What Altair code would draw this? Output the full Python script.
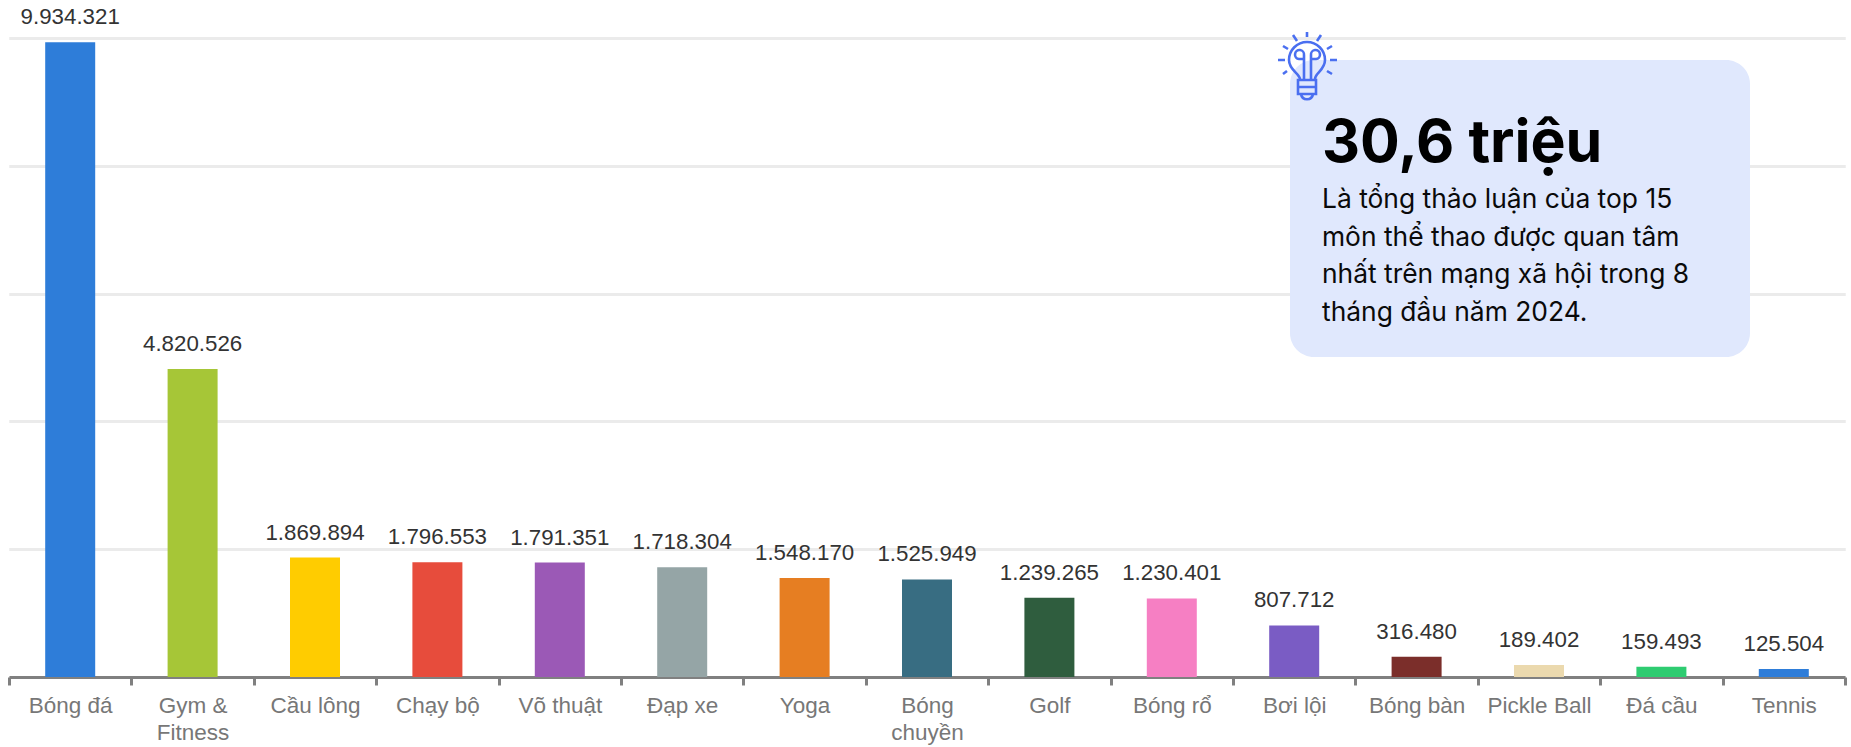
import altair as alt
import pandas as pd

# Social-media discussion volume per sport
sports = ["Bóng đá", "Gym &|Fitness", "Cầu lông", "Chạy bộ", "Võ thuật", "Đạp xe", "Yoga",
          "Bóng|chuyền", "Golf", "Bóng rổ", "Bơi lội", "Bóng bàn", "Pickle Ball", "Đá cầu", "Tennis"]
mentions = [9934321, 4820526, 1869894, 1796553, 1791351, 1718304, 1548170,
            1525949, 1239265, 1230401, 807712, 316480, 189402, 159493, 125504]
colors = ["#2E7DD9", "#A6C637", "#FFCC00", "#E74C3C", "#9B59B6", "#95A5A6", "#E67E22",
          "#386D82", "#2F5D3E", "#F67FC3", "#7A5CC4", "#7B2E2A", "#EBD9AE", "#2ECC71", "#2E7DD9"]
y_ticks = [0, 2000000, 4000000, 6000000, 8000000, 10000000]

headline = "30,6 triệu"
body_lines = ["Là tổng thảo luận của top 15", "môn thể thao được quan tâm",
              "nhất trên mạng xã hội trong 8", "tháng đầu năm 2024."]

LEFT, TOP, W, H = 9, 38, 1836, 639


def px(x):
    return alt.value(x - LEFT)


def py(y):
    return alt.value(y - TOP)


df = pd.DataFrame({
    "sport": sports,
    "mentions": mentions,
    "color": colors,
    "label": [f"{v:,}".replace(",", ".") for v in mentions],
})

x = alt.X("sport:N", sort=sports, title=None,
          scale=alt.Scale(padding=0),
          axis=alt.Axis(labelExpr="split(datum.label, '|')", labelAngle=0, labelFont="Liberation Sans",
                        labelFontSize=22.5, labelColor="#777777", labelPadding=9, labelLineHeight=27,
                        labelLimit=200, labelOverlap=False, domainColor="#808080", domainWidth=3,
                        tickColor="#808080", tickWidth=3, tickSize=8, tickBand="extent", grid=False))
y = alt.Y("mentions:Q", title=None,
          scale=alt.Scale(domain=[0, 10000000], nice=False),
          axis=alt.Axis(values=y_ticks, labels=False, ticks=False, domain=False,
                        grid=True, gridColor="#EBEBEB", gridWidth=3))

bars = alt.Chart(df).mark_bar(width=50).encode(x=x, y=y, color=alt.Color("color:N", scale=None))
values = alt.Chart(df).mark_text(baseline="bottom", dy=-13, font="Liberation Sans", fontSize=22.3,
                                 color="#333333").encode(x=x, y=y, text="label:N")

one = pd.DataFrame({"n": [0]})
box = alt.Chart(one).mark_rect(color="#E0E8FD", cornerRadius=24).encode(
    x=px(1290), x2=px(1750), y=py(60), y2=py(357))
head = alt.Chart(one).mark_text(align="left", baseline="alphabetic", font="Inter", fontSize=59,
                                fontWeight=700, color="#000000").encode(
    x=px(1322), y=py(162), text=alt.value(headline))

body_df = pd.DataFrame({"line": body_lines, "row": range(len(body_lines))})
body = alt.Chart(body_df).mark_text(align="left", baseline="alphabetic", font="Inter", fontSize=26.4,
                                    fontWeight=400, color="#0A0A0A").encode(
    x=px(1322),
    y=alt.Y("row:Q", scale=alt.Scale(domain=[0, 3], range=[208 - TOP, 321 - TOP]), axis=None),
    text="line:N")

# Light-bulb pictogram, path coordinates are pixels around the bulb centre
bulb_path = (
    "M-7,19 C-8,13 -18,10 -18,0 A18,18 0 1 1 18,0 C18,10 8,13 8,19 "
    "M-9,20 L9,20 L9,34 L-9,34 Z M-9,27 L9,27 M-6,34 C-5,41 5,41 6,34 "
    "M-3,19 L-3,-1 M4,19 L4,-1 "
    "M-3,-1 L-8,-1 A4.5,4.5 0 1 1 -3,-5 L-3,-1 M4,-1 L9,-1 A4.5,4.5 0 1 0 4,-5 L4,-1 "
    "M0,-28 L0,-23 M-14,-25 L-10,-19 M14,-25 L10,-19 M-24,-14 L-19,-11 M25,-14 L20,-11 "
    "M-29,0 L-22,0 M23,0 L30,0 M-24,14 L-20,11 M25,14 L20,11"
)
bulb = alt.Chart(one).mark_point(shape=bulb_path, size=4, filled=False, stroke="#4A6FF0",
                                 strokeWidth=2.6, opacity=1).encode(x=px(1307), y=py(60))

chart = alt.layer(bars, values, box, head, body, bulb).resolve_scale(y="independent").properties(
    width=W, height=H,
    padding={"left": LEFT, "top": TOP, "right": 1851 - LEFT - W, "bottom": 747 - TOP - H},
    autosize=alt.AutoSizeParams(type="none"),
    background="white",
).configure_view(stroke=None)

chart.save("out.html", embed_options={"renderer": "svg", "actions": False})
